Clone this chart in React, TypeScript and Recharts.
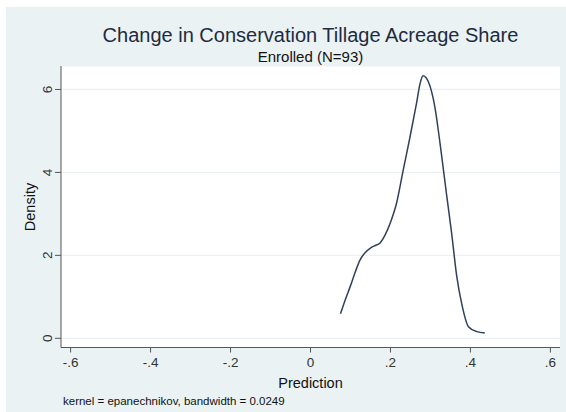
import React from "react";
import { LineChart, Line, XAxis, YAxis, CartesianGrid } from "recharts";

const predictionValues = [
  0.075, 0.087, 0.099, 0.112, 0.124, 0.137, 0.149, 0.16, 0.174, 0.187, 0.199, 0.215,
  0.232, 0.249, 0.265, 0.274, 0.2815, 0.295, 0.311, 0.324, 0.34, 0.353, 0.366,
  0.378, 0.395, 0.416, 0.436,
];
const densityValues = [
  0.59, 0.93, 1.24, 1.6, 1.89, 2.07, 2.17, 2.23, 2.3, 2.5, 2.77, 3.25,
  4.06, 4.86, 5.66, 6.14, 6.33, 6.18, 5.58, 4.7, 3.49, 2.53, 1.48,
  0.84, 0.28, 0.16, 0.13,
];
const xTicks = [-0.6, -0.4, -0.2, 0, 0.2, 0.4, 0.6];
const yTicks = [0, 2, 4, 6];

const titleText = "Change in Conservation Tillage Acreage Share";
const subtitleText = "Enrolled (N=93)";
const xLabel = "Prediction";
const yLabel = "Density";
const noteText = "kernel = epanechnikov, bandwidth = 0.0249";

const data = predictionValues.map((x, i) => ({ x, y: densityValues[i] }));

const FONT = "'Liberation Sans', Arial, Helvetica, sans-serif";
const BG = "#eaf2f3";

const fmt = (v: number) => {
  if (Math.abs(v) < 1e-9) return "0";
  const s = String(Math.round(Math.abs(v) * 10));
  return (v < 0 ? "-." : ".") + s;
};

const YTick = (props: any) => {
  const { x, y, payload } = props;
  const cx = x - 2;
  return (
    <text
      x={cx}
      y={y}
      dy="0.36em"
      transform={`rotate(-90 ${cx} ${y})`}
      textAnchor="middle"
      fill="#333"
      fontSize={13.5}
      fontFamily={FONT}
    >
      {String(payload.value)}
    </text>
  );
};

export default function App() {
  return (
    <div
      style={{
        position: "absolute",
        left: 0,
        top: 0,
        width: 566,
        height: 412,
        background: "#ffffff",
        overflow: "hidden",
      }}
    >
      <div
        style={{
          position: "absolute",
          left: 6,
          top: 7,
          width: 560,
          height: 405,
          background: BG,
        }}
      />
      <div style={{ position: "absolute", left: 0, top: 0 }}>
        <LineChart
          width={566}
          height={412}
          data={data}
          margin={{ top: 66, right: 6, left: 0, bottom: 44.5 }}
        >
          <CartesianGrid
            vertical={false}
            horizontal={true}
            fill="#ffffff"
            stroke={BG}
            strokeWidth={1.2}
          />
          <XAxis
            dataKey="x"
            type="number"
            domain={[-0.624, 0.624]}
            ticks={xTicks}
            allowDataOverflow
            tickFormatter={fmt}
            height={20}
            tickSize={5}
            tickMargin={4.5}
            axisLine={{ stroke: "#555" }}
            tickLine={{ stroke: "#555" }}
            tick={{ fill: "#333", fontSize: 13.5, fontFamily: FONT }}
            interval={0}
          />
          <YAxis
            type="number"
            domain={[-0.222, 6.566]}
            ticks={yTicks}
            allowDataOverflow
            width={61}
            tickSize={6}
            tickMargin={6}
            axisLine={{ stroke: "#555" }}
            tickLine={{ stroke: "#555" }}
            tick={<YTick />}
            interval={0}
          />
          <Line
            type="monotone"
            dataKey="y"
            stroke="#2f3f5c"
            strokeWidth={1.5}
            dot={false}
            isAnimationActive={false}
          />
        </LineChart>
      </div>
      <svg
        width={566}
        height={412}
        style={{ position: "absolute", left: 0, top: 0, pointerEvents: "none" }}
      >
        <text x={310.5} y={41.5} textAnchor="middle" fontSize={20} fill="#1e2b40" fontFamily={FONT}>
          {titleText}
        </text>
        <text x={310.5} y={62} textAnchor="middle" fontSize={15} fill="#111" fontFamily={FONT}>
          {subtitleText}
        </text>
        <text x={310.5} y={388} textAnchor="middle" fontSize={14.5} fill="#111" fontFamily={FONT}>
          {xLabel}
        </text>
        <text
          x={35}
          y={207}
          textAnchor="middle"
          fontSize={14.5}
          fill="#111"
          fontFamily={FONT}
          transform="rotate(-90 35 207)"
        >
          {yLabel}
        </text>
        <text x={63} y={405} fontSize={11.5} fill="#111" fontFamily={FONT}>
          {noteText}
        </text>
      </svg>
    </div>
  );
}
